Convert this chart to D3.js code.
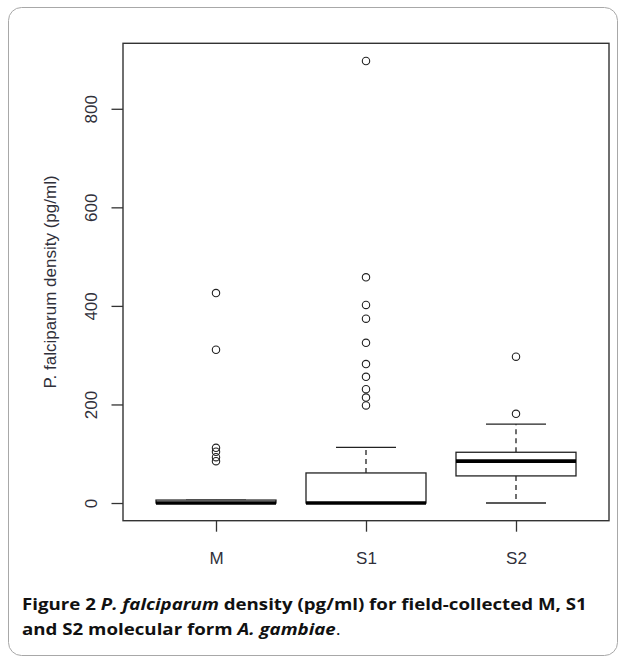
<!DOCTYPE html>
<html>
<head>
<meta charset="utf-8">
<script src="https://cdn.jsdelivr.net/npm/d3@7"></script>
<style>
  html, body { margin: 0; padding: 0; background: #fff; }
  svg { display: block; }
</style>
</head>
<body>
<svg id="chart" width="626" height="662"></svg>
<script>
// ---- data ----
const categories = ["M", "S1", "S2"];
const q1 = [0, 0, 55];
const medians = [0, 0, 85];
const q3 = [6, 61, 103];
const whiskerLow = [0, 0, 0];
const whiskerHigh = [6, 113, 160];
const outliersM = [426, 311, 112, 104, 93, 85];
const outliersS1 = [897, 458, 402, 374, 325, 282, 256, 231, 214, 198];
const outliersS2 = [297, 181];
const yTicks = [0, 200, 400, 600, 800];
const yLabel = "P. falciparum density (pg/ml)";

const outliers = [outliersM, outliersS1, outliersS2];
const boxes = categories.map((c, i) => ({
  cat: c, q1: q1[i], med: medians[i], q3: q3[i],
  lo: whiskerLow[i], hi: whiskerHigh[i], out: outliers[i]
}));

const svg = d3.select("#chart");

// card
svg.append("rect")
  .attr("x", 8.5).attr("y", 7.5).attr("width", 609).attr("height", 648)
  .attr("rx", 13).attr("fill", "#fff").attr("stroke", "#a8a8a8").attr("stroke-width", 1);

const plot = { left: 123, right: 609, top: 43.3, bottom: 520.7 };

// y scale like R default (4% padding of data range)
const allVals = boxes.flatMap(b => [b.lo, b.hi, ...b.out]);
const yMin = d3.min(allVals), yMax = d3.max(allVals);
const pad = (yMax - yMin) * 0.04;
const y = d3.scaleLinear().domain([yMin - pad, yMax + pad]).range([plot.bottom, plot.top]);

const x = d3.scalePoint().domain(categories).range([plot.left, plot.right]).padding(0.62);
const boxW = x.step() * 0.8;
const capW = boxW / 2;

const ink = "#222";
const textCol = "#30303a";
const axisFont = "'Liberation Sans', Arial, sans-serif";

// boxes
const g = svg.append("g");
boxes.forEach(b => {
  const cx = x(b.cat);
  g.append("line").attr("x1", cx).attr("x2", cx).attr("y1", y(b.q3)).attr("y2", y(b.hi))
    .attr("stroke", ink).attr("stroke-width", 1.3).attr("stroke-dasharray", "5,4");
  g.append("line").attr("x1", cx).attr("x2", cx).attr("y1", y(b.q1)).attr("y2", y(b.lo))
    .attr("stroke", ink).attr("stroke-width", 1.3).attr("stroke-dasharray", "5,4");
  g.append("line").attr("x1", cx - capW / 2).attr("x2", cx + capW / 2).attr("y1", y(b.hi)).attr("y2", y(b.hi))
    .attr("stroke", ink).attr("stroke-width", 1.3);
  g.append("line").attr("x1", cx - capW / 2).attr("x2", cx + capW / 2).attr("y1", y(b.lo)).attr("y2", y(b.lo))
    .attr("stroke", ink).attr("stroke-width", 1.3);
  g.append("rect").attr("x", cx - boxW / 2).attr("width", boxW)
    .attr("y", y(b.q3)).attr("height", Math.max(0, y(b.q1) - y(b.q3)))
    .attr("fill", "#fff").attr("stroke", ink).attr("stroke-width", 1.3);
  g.append("line").attr("x1", cx - boxW / 2).attr("x2", cx + boxW / 2).attr("y1", y(b.med)).attr("y2", y(b.med))
    .attr("stroke", "#000").attr("stroke-width", 3.6);
  g.selectAll(null).data(b.out).enter().append("circle")
    .attr("cx", cx).attr("cy", d => y(d)).attr("r", 3.7)
    .attr("fill", "none").attr("stroke", ink).attr("stroke-width", 1.1);
});

// frame
svg.append("rect")
  .attr("x", plot.left).attr("y", plot.top)
  .attr("width", plot.right - plot.left).attr("height", plot.bottom - plot.top)
  .attr("fill", "none").attr("stroke", "#333").attr("stroke-width", 1.4);

// y axis
const yAxis = d3.axisLeft(y).tickValues(yTicks).tickSize(11.5).tickPadding(0);
const ya = svg.append("g").attr("transform", `translate(${plot.left},0)`).call(yAxis);
ya.select(".domain").remove();
ya.selectAll(".tick line").attr("stroke", "#333").attr("stroke-width", 1.3);
ya.selectAll(".tick text")
  .attr("x", 0).attr("dy", null)
  .attr("transform", "translate(-30,0) rotate(-90)")
  .attr("text-anchor", "middle")
  .attr("dominant-baseline", "middle")
  .style("font-family", axisFont).style("font-size", "17px").attr("fill", textCol);

// x axis
const xAxis = d3.axisBottom(x).tickSize(11).tickPadding(0);
const xa = svg.append("g").attr("transform", `translate(0,${plot.bottom})`).call(xAxis);
xa.select(".domain").remove();
xa.selectAll(".tick line").attr("stroke", "#333").attr("stroke-width", 1.3);
xa.selectAll(".tick text")
  .attr("y", 43).attr("dy", null)
  .style("font-family", axisFont).style("font-size", "17px").attr("fill", textCol);

// y label
svg.append("text")
  .attr("transform", `translate(56,${(plot.top + plot.bottom) / 2}) rotate(-90)`)
  .attr("text-anchor", "middle")
  .style("font-family", axisFont).style("font-size", "17px").attr("fill", textCol)
  .text(yLabel);

// caption
const capFont = "'Open Sans', 'Noto Sans', sans-serif";
const capX = 22;
const cap = svg.append("g").style("font-family", capFont).style("font-size", "16.5px").attr("fill", "#111");
const line1 = cap.append("text").attr("x", 0).attr("y", 610);
line1.append("tspan").attr("font-weight", "bold").text("Figure 2 ");
line1.append("tspan").attr("font-weight", "bold").attr("font-style", "italic").text("P. falciparum");
line1.append("tspan").attr("font-weight", "bold").text(" density (pg/ml) for field-collected M, S1");
const line2 = cap.append("text").attr("x", 0).attr("y", 635);
line2.append("tspan").attr("font-weight", "bold").text("and S2 molecular form ");
line2.append("tspan").attr("font-weight", "bold").attr("font-style", "italic").text("A. gambiae");
line2.append("tspan").attr("font-weight", "normal").text(".");
// horizontal fit of the caption to the reference line width (~565px)
const w1 = line1.node().getComputedTextLength();
const sx = 565 / w1;
cap.attr("transform", `translate(${capX},0) scale(${sx},1)`);
</script>
</body>
</html>
